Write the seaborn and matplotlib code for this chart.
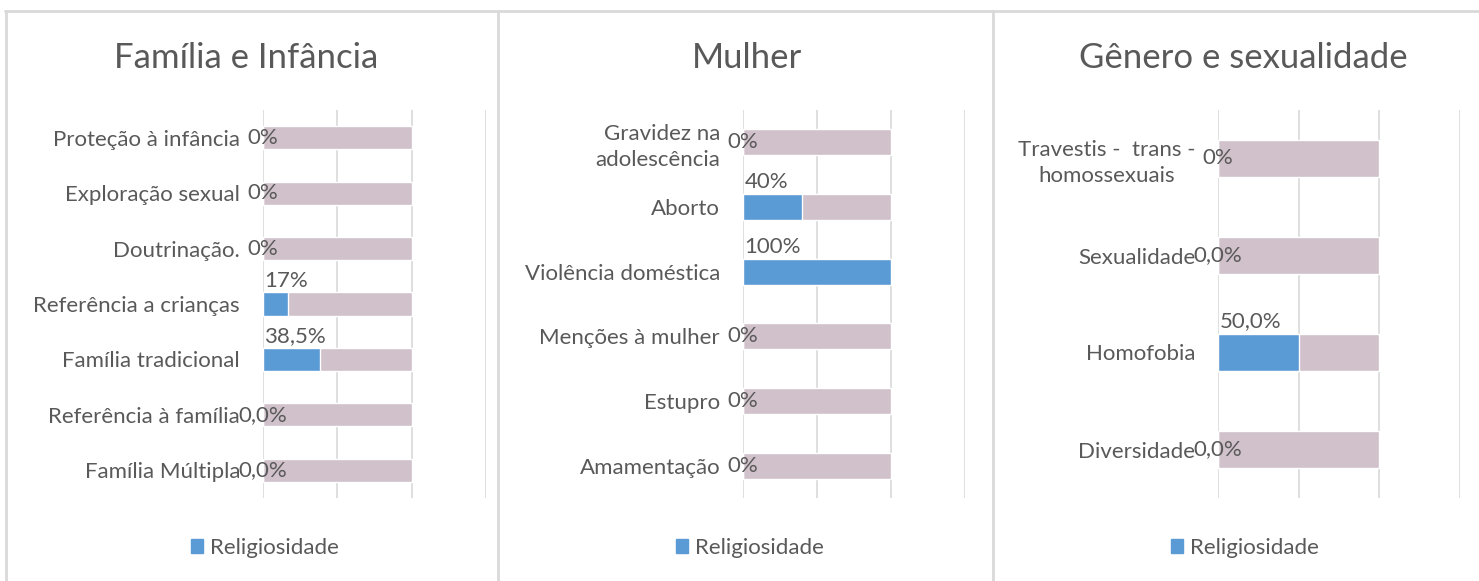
import matplotlib
matplotlib.use("Agg")
import matplotlib.pyplot as plt
import seaborn as sns
import pandas as pd
from matplotlib.patches import Patch
from matplotlib.lines import Line2D

# Data
familia_cats = ["Proteção à infância", "Exploração sexual", "Doutrinação.",
                "Referência a crianças", "Família tradicional",
                "Referência à família", "Família Múltipla"]
familia_vals = [0, 0, 0, 17, 38.5, 0, 0]
familia_lbls = ["0%", "0%", "0%", "17%", "38,5%", "0,0%", "0,0%"]
familia_total = [100, 100, 100, 100, 100, 100, 100]

mulher_cats = ["Gravidez na\nadolescência", "Aborto", "Violência doméstica",
               "Menções à mulher", "Estupro", "Amamentação"]
mulher_vals = [0, 40, 100, 0, 0, 0]
mulher_lbls = ["0%", "40%", "100%", "0%", "0%", "0%"]
mulher_total = [100, 100, 100, 100, 100, 100]

genero_cats = ["Travestis -  trans -\nhomossexuais", "Sexualidade",
               "Homofobia", "Diversidade"]
genero_vals = [0, 0, 50, 0]
genero_lbls = ["0%", "0,0%", "50,0%", "0,0%"]
genero_total = [100, 100, 100, 100]

titles = ["Família e Infância", "Mulher", "Gênero e sexualidade"]
series_name = "Religiosidade"

BLUE = "#5B9BD5"
PINK = "#D0C1CB"
GRID = "#D9D9D9"
TXT = "#595959"
FS = 16

sns.set_theme(style="white")
plt.rcParams["font.family"] = ["Lato", "DejaVu Sans"]

W, H = 1479, 581
fig = plt.figure(figsize=(W / 100, H / 100), dpi=100)

# axes boxes in pixels: left, right, title x centre, legend x centre, bar width
panels = [
    (familia_cats, familia_vals, familia_lbls, familia_total, 263, 486, 246, 265, 0.42),
    (mulher_cats, mulher_vals, mulher_lbls, mulher_total, 743, 965, 747, 750, 0.40),
    (genero_cats, genero_vals, genero_lbls, genero_total, 1218, 1460, 1243, 1245, 0.39),
]
top_px, bot_px = 110, 498

for i, (cats, vals, lbls, tot, l, r, tx, lx, bw) in enumerate(panels):
    ax = fig.add_axes([l / W, 1 - bot_px / H, (r - l) / W, (bot_px - top_px) / H])
    df = pd.DataFrame({"cat": cats, "val": vals, "tot": tot})
    sns.barplot(data=df, y="cat", x="tot", color=PINK, width=bw, orient="h",
                saturation=1, ax=ax)
    sns.barplot(data=df, y="cat", x="val", color=BLUE, width=bw, orient="h",
                saturation=1, ax=ax)
    n = len(cats)
    ax.set_xlim(0, 150)
    ax.set_ylim(n - 0.5, -0.5)
    ax.set_xticks([0, 50, 100, 150])
    ax.xaxis.grid(True, color=GRID, lw=1.2)
    ax.set_axisbelow(True)
    ax.tick_params(axis="x", labelbottom=False, length=0)
    ax.tick_params(axis="y", length=0, pad=16.5, labelsize=FS, labelcolor=TXT)
    ax.set_xlabel("")
    ax.set_ylabel("")
    for s in ax.spines.values():
        s.set_visible(False)
    for t in ax.get_yticklabels():
        t.set_linespacing(1.35)
        if t.get_text().startswith("Travestis"):
            t.set_multialignment("center")
        else:
            t.set_multialignment("right")
    for j, (v, lb) in enumerate(zip(vals, lbls)):
        if v == 0:
            ax.text(0, j, lb, ha="center", va="center", fontsize=FS, color=TXT)
        else:
            ax.text(1, j - bw / 2 - 0.03, lb, ha="left", va="bottom",
                    fontsize=FS, color=TXT)
    fig.text(tx / W, 1 - 58 / H, titles[i], ha="center", va="center",
             fontsize=25, color=TXT)
    ax.legend(handles=[Patch(color=BLUE, label=series_name)], loc="center",
              bbox_to_anchor=(lx / W, 1 - 548 / H), bbox_transform=fig.transFigure,
              frameon=False, fontsize=FS, labelcolor=TXT, handlelength=0.55,
              handleheight=0.55, handletextpad=0.3)

# chart borders
def hline(x0, x1, y):
    fig.add_artist(Line2D([x0 / W, x1 / W], [1 - y / H, 1 - y / H], color=GRID, lw=2))

def vline(x, y0, y1):
    fig.add_artist(Line2D([x / W, x / W], [1 - y0 / H, 1 - y1 / H], color=GRID, lw=2))

hline(5, W, 11)
for x in (6, 498, 993):
    vline(x, 11, H)

fig.savefig("out.png", dpi=100, facecolor="white")
